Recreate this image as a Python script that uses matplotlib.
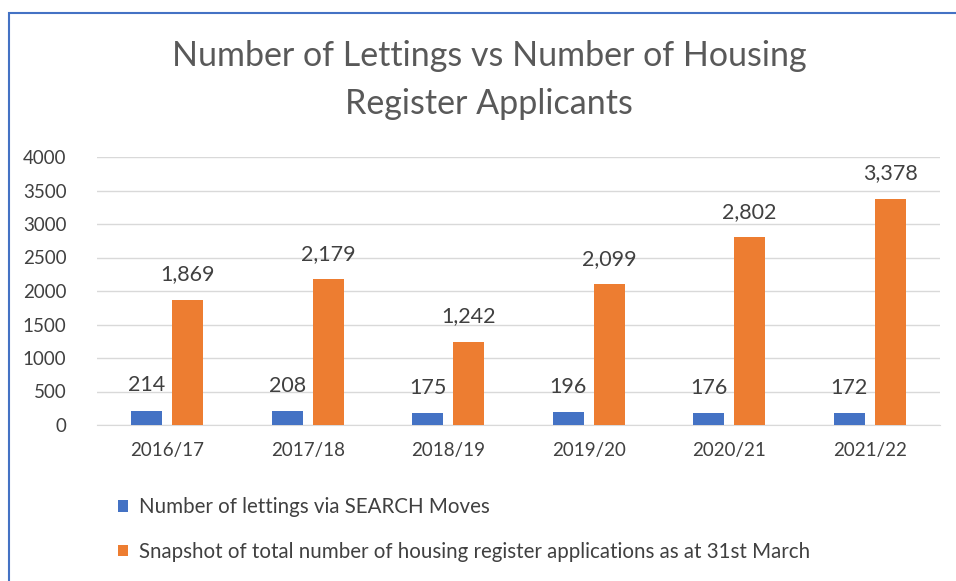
import matplotlib
matplotlib.use("Agg")
import matplotlib.pyplot as plt
import numpy as np
from matplotlib.patches import Rectangle

plt.rcParams['font.family'] = ['Lato', 'DejaVu Sans']

years = ['2016/17', '2017/18', '2018/19', '2019/20', '2020/21', '2021/22']
lettings = [214, 208, 175, 196, 176, 172]
applications = [1869, 2179, 1242, 2099, 2802, 3378]
series_names = ['Number of lettings via SEARCH Moves',
                'Snapshot of total number of housing register applications as at 31st March']

blue = '#4472C4'
orange = '#ED7D31'
txt = '#404040'

fig = plt.figure(figsize=(9.56, 5.81), dpi=100)
ax = fig.add_axes([97/956, 1 - 425/581, (940 - 97)/956, (425 - 157)/581])

x = np.arange(len(years))
w = 0.22
b1 = ax.bar(x - 0.145, lettings, w, color=blue, label=series_names[0], zorder=3)
b2 = ax.bar(x + 0.145, applications, w, color=orange, label=series_names[1], zorder=3)

ax.bar_label(b1, labels=[f'{v:,}' for v in lettings], padding=11, fontsize=15.5, color=txt)
ax.bar_label(b2, labels=[f'{v:,}' for v in applications], padding=11, fontsize=15.5, color=txt)

ax.set_xlim(-0.5, len(years) - 0.5)
ax.set_ylim(0, 4000)
ax.set_yticks(range(0, 4001, 500))
ax.set_xticks(x)
ax.set_xticklabels(years)
ax.tick_params(axis='both', length=0, labelsize=13.5, colors=txt)
ax.tick_params(axis='y', pad=22)
ax.tick_params(axis='x', pad=12)
ax.grid(axis='y', color='#d9d9d9', linewidth=1, zorder=0)
for s in ['top', 'right', 'left']:
    ax.spines[s].set_visible(False)
ax.spines['bottom'].set_color('#d9d9d9')

fig.text(489/956, 1 - 80/581, 'Number of Lettings vs Number of Housing\nRegister Applicants',
         ha='center', va='center', fontsize=24.5, color='#595959', linespacing=1.6)

fig.legend(handles=[b1, b2], loc='upper left', bbox_to_anchor=(118/956, 1 - 497/581),
           frameon=False, fontsize=14.8, labelcolor=txt, handlelength=0.5, handleheight=0.5,
           handletextpad=0.5, labelspacing=1.2, borderaxespad=0, borderpad=0)

fig.patches.append(Rectangle((9/956, -0.1), 1.2, 1 - 13/581 + 0.1, transform=fig.transFigure,
                             fill=False, edgecolor=blue, linewidth=1.5))

fig.savefig('out.png', dpi=100)
